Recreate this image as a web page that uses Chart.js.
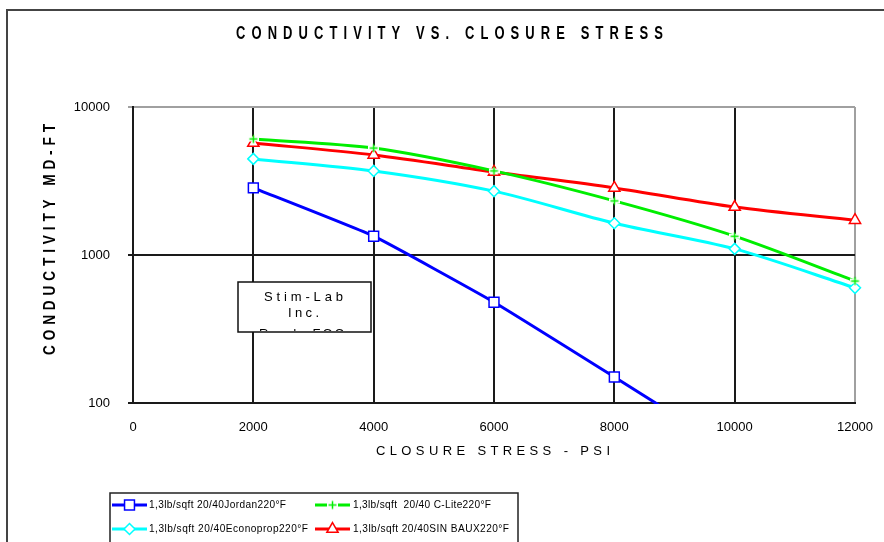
<!DOCTYPE html>
<html>
<head>
<meta charset="utf-8">
<title>Conductivity vs. Closure Stress</title>
<script src="https://cdn.jsdelivr.net/npm/chart.js@4.4.1/dist/chart.umd.min.js"></script>
<style>
    html, body { margin: 0; padding: 0; background: #fff; overflow: hidden; }
    #wrap { width: 884px; height: 542px; }
</style>
</head>
<body>
<div id="wrap"><canvas id="conductivityChart" width="884" height="542"></canvas></div>
<script>
// closure stress (psi) and conductivity (md-ft) per proppant
const stressPsi = [2000, 4000, 6000, 8000, 10000, 12000];
const jordan = [2840, 1340, 480, 150, 46];
const cLite = [6080, 5280, 3700, 2320, 1340, 667];
const econoprop = [4460, 3700, 2700, 1640, 1100, 600];
const sinBaux = [5710, 4740, 3640, 2840, 2110, 1720];
const yTickValues = [100, 1000, 10000];
const seriesLabels = [
    '1,3lb/sqft 20/40Jordan220°F',
    '1,3lb/sqft  20/40 C-Lite220°F',
    '1,3lb/sqft 20/40Econoprop220°F',
    '1,3lb/sqft 20/40SIN BAUX220°F'
];
const noteLines = ['Stim-Lab', 'Inc.', 'Ready FOC'];

const FONT = "'Liberation Sans', Arial, sans-serif";

function makeCrossMarker(color) {
    const c = document.createElement('canvas');
    c.width = 11;
    c.height = 11;
    const g = c.getContext('2d');
    g.fillStyle = '#fff';
    g.fillRect(0, 3, 11, 5);
    g.strokeStyle = color;
    g.lineWidth = 1.5;
    g.beginPath();
    g.moveTo(5.5, 1.5); g.lineTo(5.5, 9.5);
    g.moveTo(1.5, 5.5); g.lineTo(9.5, 5.5);
    g.stroke();
    return c;
}

function toPoints(values) {
    return values.map((v, i) => ({ x: stressPsi[i], y: v }));
}

// draws text char by char so it fills a given width; squeeze narrows the glyphs
function spacedText(ctx, text, left, cy, width, squeeze = 1) {
    const chars = [...text];
    const widths = chars.map(c => ctx.measureText(c).width * squeeze);
    const raw = widths.reduce((a, b) => a + b, 0);
    const gap = chars.length > 1 ? (width - raw) / (chars.length - 1) : 0;
    let x = left;
    ctx.textAlign = 'left';
    ctx.textBaseline = 'middle';
    chars.forEach((c, i) => {
        ctx.save();
        ctx.translate(x, cy);
        ctx.scale(squeeze, 1);
        ctx.fillText(c, 0, 0);
        ctx.restore();
        x += widths[i] + gap;
    });
}

const lineStyle = {
    borderWidth: 3,
    tension: 0.3,
    pointBackgroundColor: '#fff',
    pointBorderWidth: 1.5,
    clip: { left: 10, right: 10, top: 10, bottom: 1 }
};

const datasets = [
    { ...lineStyle, label: seriesLabels[0], data: toPoints(jordan), tension: 0.12, borderColor: '#0000ff', pointBorderColor: '#0000ff', pointStyle: 'rect', pointRadius: 7 },
    { ...lineStyle, label: seriesLabels[1], data: toPoints(cLite), borderColor: '#00ee00', pointBorderColor: '#00ee00', pointStyle: makeCrossMarker('#00ee00'), pointRadius: 5 },
    { ...lineStyle, label: seriesLabels[2], data: toPoints(econoprop), borderColor: '#00ffff', pointBorderColor: '#00ffff', pointStyle: 'rectRot', pointRadius: 5.5 },
    { ...lineStyle, label: seriesLabels[3], data: toPoints(sinBaux), borderColor: '#ff0000', pointBorderColor: '#ff0000', pointStyle: 'triangle', pointRadius: 6.5 }
];

const framePlugin = {
    id: 'frame',
    beforeDraw(chart) {
        const ctx = chart.ctx;
        ctx.save();
        ctx.fillStyle = '#fff';
        ctx.fillRect(0, 0, chart.width, chart.height);
        ctx.strokeStyle = '#444';
        ctx.lineWidth = 2;
        ctx.strokeRect(7, 10, 900, 560);
        ctx.restore();
    }
};

const textPlugin = {
    id: 'labels',
    afterDraw(chart) {
        const ctx = chart.ctx;
        ctx.save();
        ctx.fillStyle = '#000';

        ctx.font = 'bold 18px ' + FONT;
        spacedText(ctx, 'CONDUCTIVITY VS. CLOSURE STRESS', 236, 34, 427, 0.72);

        ctx.font = '13px ' + FONT;
        spacedText(ctx, 'CLOSURE STRESS - PSI', 376, 451, 234);

        ctx.save();
        ctx.translate(50, 240);
        ctx.rotate(-Math.PI / 2);
        ctx.font = 'bold 17px ' + FONT;
        spacedText(ctx, 'CONDUCTIVITY MD-FT', -115, 0, 231, 0.8);
        ctx.restore();

        // note box
        ctx.fillStyle = '#fff';
        ctx.fillRect(238, 282, 133, 50);
        ctx.strokeStyle = '#111';
        ctx.lineWidth = 1.5;
        ctx.strokeRect(238, 282, 133, 50);
        ctx.save();
        ctx.beginPath();
        ctx.rect(239, 283, 131, 48);
        ctx.clip();
        ctx.fillStyle = '#000';
        ctx.font = '13px ' + FONT;
        spacedText(ctx, noteLines[0], 264, 297, 79);
        spacedText(ctx, noteLines[1], 288, 313, 31);
        spacedText(ctx, noteLines[2], 259, 334, 85);
        ctx.restore();

        // legend
        ctx.fillStyle = '#fff';
        ctx.fillRect(110, 493, 408, 60);
        ctx.strokeStyle = '#222';
        ctx.lineWidth = 1.5;
        ctx.strokeRect(110, 493, 408, 60);
        const colX = [112, 315];
        const textX = [149, 353];
        const rowY = [505, 529];
        const textW = [137, 138, 159, 156];
        chart.data.datasets.forEach((ds, i) => {
            const col = i % 2;
            const row = Math.floor(i / 2);
            const y = rowY[row];
            ctx.strokeStyle = ds.borderColor;
            ctx.lineWidth = 3;
            ctx.beginPath();
            ctx.moveTo(colX[col], y);
            ctx.lineTo(colX[col] + 35, y);
            ctx.stroke();
            ctx.fillStyle = '#fff';
            ctx.strokeStyle = ds.pointBorderColor;
            ctx.lineWidth = 1.5;
            Chart.helpers.drawPoint(ctx, {
                pointStyle: ds.pointStyle,
                radius: ds.pointRadius,
                borderWidth: 1.5,
                rotation: 0
            }, colX[col] + 17.5, y);
            ctx.fillStyle = '#000';
            ctx.font = '11px ' + FONT;
            spacedText(ctx, ds.label, textX[col], y, textW[i], 0.92);
        });
        ctx.restore();
    }
};

new Chart(document.getElementById('conductivityChart'), {
    type: 'line',
    data: { datasets: datasets },
    plugins: [framePlugin, textPlugin],
    options: {
        responsive: false,
        animation: false,
        devicePixelRatio: 1,
        layout: { padding: { left: 0, top: 107, right: 29, bottom: 0 } },
        plugins: {
            legend: { display: false },
            title: { display: false },
            tooltip: { enabled: false }
        },
        scales: {
            x: {
                type: 'linear',
                min: 0,
                max: 12000,
                ticks: {
                    stepSize: 2000,
                    maxRotation: 0,
                    padding: 17,
                    color: '#000',
                    font: { family: FONT, size: 13 },
                    callback: v => String(v)
                },
                grid: {
                    color: ctx => (ctx.tick && ctx.tick.value === 12000) ? '#a0a0a0' : '#1a1a1a',
                    lineWidth: 2,
                    drawTicks: false
                },
                border: { color: '#1a1a1a', width: 2 },
                afterFit: scale => {
                    scale.height = 139;
                    scale.paddingLeft = 0;
                    scale.paddingRight = 0;
                }
            },
            y: {
                type: 'logarithmic',
                min: 100,
                max: 10000,
                afterBuildTicks: scale => {
                    scale.ticks = yTickValues.map(v => ({ value: v }));
                },
                ticks: {
                    padding: 18,
                    color: '#000',
                    font: { family: FONT, size: 13 },
                    callback: v => String(v)
                },
                grid: {
                    color: ctx => (ctx.tick && ctx.tick.value === 10000) ? '#a0a0a0' : '#1a1a1a',
                    lineWidth: 2,
                    tickLength: 5
                },
                border: { color: '#1a1a1a', width: 2 },
                afterFit: scale => {
                    scale.width = 133;
                    scale.paddingTop = 0;
                    scale.paddingBottom = 0;
                }
            }
        }
    }
});
</script>
</body>
</html>
